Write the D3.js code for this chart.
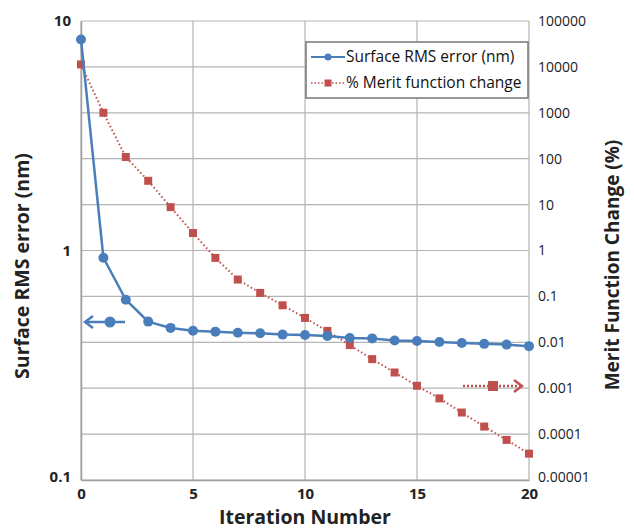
<!DOCTYPE html>
<html>
<head>
<meta charset="utf-8">
<script src="https://cdn.jsdelivr.net/npm/d3@7"></script>
<style>
  body { margin: 0; background: #fff; }
  svg text { font-family: "Open Sans", "Liberation Sans", sans-serif; }
</style>
</head>
<body>
<div id="canvas"></div>
<script>
// iteration numbers
const iterations = d3.range(0, 21);
// Surface RMS error (nm), left axis
const rmsError = [8.3, 0.93, 0.61, 0.49, 0.46, 0.447, 0.443, 0.438, 0.436, 0.43, 0.428,
  0.424, 0.416, 0.414, 0.405, 0.403, 0.399, 0.395, 0.392, 0.389, 0.383];
// % Merit function change, right axis
const meritChange = [11300, 1000, 109, 33, 8.8, 2.4, 0.69, 0.233, 0.119, 0.064, 0.034,
  0.0177, 0.0087, 0.0043, 0.0022, 0.00113, 0.0006, 0.000295, 0.000146, 0.0000747, 0.0000375];
const leftTicks = [0.1, 1, 10];
const rightTicks = [0.00001, 0.0001, 0.001, 0.01, 0.1, 1, 10, 100, 1000, 10000, 100000];
const rightLabels = ["0.00001", "0.0001", "0.001", "0.01", "0.1", "1", "10", "100", "1000", "10000", "100000"];
const xTicks = [0, 5, 10, 15, 20];
const seriesNames = ["Surface RMS error (nm)", "% Merit function change"];

const width = 634, height = 531;
const margin = { top: 21, left: 81, bottom: 51, right: 105 };
const iwidth = width - margin.left - margin.right;
const iheight = height - margin.top - margin.bottom;

const blue = "#4a7ebb", red = "#c0504d", grid = "#b4b4b4";

const svg = d3.select("#canvas").append("svg")
  .attr("width", width).attr("height", height);
const g = svg.append("g").attr("transform", `translate(${margin.left},${margin.top})`);

const x = d3.scaleLinear().domain([0, 20]).range([0, iwidth]);
const yL = d3.scaleLog().domain([0.1, 10]).range([iheight, 0]);
const yR = d3.scaleLog().domain([0.00001, 100000]).range([iheight, 0]);

// gridlines
g.append("g").selectAll("line").data(rightTicks).enter().append("line")
  .attr("x1", 0).attr("x2", iwidth)
  .attr("y1", d => yR(d)).attr("y2", d => yR(d))
  .attr("stroke", grid).attr("stroke-width", 1.2);
g.append("g").selectAll("line").data(xTicks).enter().append("line")
  .attr("x1", d => x(d)).attr("x2", d => x(d))
  .attr("y1", 0).attr("y2", iheight)
  .attr("stroke", grid).attr("stroke-width", 1.2);

// axes
const axL = g.append("g").call(d3.axisLeft(yL).tickValues(leftTicks).tickFormat(d3.format("")).tickSize(0).tickPadding(10));
const axR = g.append("g").attr("transform", `translate(${iwidth},0)`)
  .call(d3.axisRight(yR).tickValues(rightTicks).tickFormat((d, i) => rightLabels[i]).tickSize(0).tickPadding(9));
const axB = g.append("g").attr("transform", `translate(0,${iheight})`)
  .call(d3.axisBottom(x).tickValues(xTicks).tickSize(0).tickPadding(8));
[axL, axR, axB].forEach(a => {
  a.select(".domain").attr("stroke", "#a0a0a0").attr("stroke-width", 1.5);
  a.selectAll("text").attr("fill", "#222").style("font-size", "15px").style("font-weight", "bold");
});
axR.select(".domain").remove();
axR.selectAll("text").style("font-weight", "normal").style("font-size", "14px");
axL.selectAll("text").attr("dy", "0.32em");
// adjust bottom-left corner labels
axL.selectAll(".tick").filter(d => d === 0.1).select("text").attr("dy", "0.1em");
axR.selectAll(".tick").filter(d => d === 0.00001).select("text").attr("dy", "0.1em");

// red series
const lineR = d3.line().x((d, i) => x(iterations[i])).y(d => yR(d));
g.append("path").datum(meritChange).attr("d", lineR)
  .attr("fill", "none").attr("stroke", red).attr("stroke-width", 2).attr("stroke-dasharray", "1.5,2.5");
g.append("g").selectAll("rect").data(meritChange).enter().append("rect")
  .attr("x", (d, i) => x(iterations[i]) - 4).attr("y", d => yR(d) - 4)
  .attr("width", 8).attr("height", 8).attr("fill", red);

// blue series
const lineB = d3.line().x((d, i) => x(iterations[i])).y(d => yL(d));
g.append("path").datum(rmsError).attr("d", lineB)
  .attr("fill", "none").attr("stroke", blue).attr("stroke-width", 2.5);
g.append("g").selectAll("circle").data(rmsError).enter().append("circle")
  .attr("cx", (d, i) => x(iterations[i])).attr("cy", d => yL(d)).attr("r", 5)
  .attr("fill", blue);

// axis pointer annotations
const bY = 322 - margin.top;
g.append("line").attr("x1", 5).attr("x2", 44).attr("y1", bY).attr("y2", bY)
  .attr("stroke", blue).attr("stroke-width", 2.5);
g.append("path").attr("d", `M12,${bY - 6}L4,${bY}L12,${bY + 6}`)
  .attr("fill", "none").attr("stroke", blue).attr("stroke-width", 2.5);
g.append("circle").attr("cx", 29).attr("cy", bY).attr("r", 5.5).attr("fill", blue);

const rY = 386 - margin.top;
g.append("line").attr("x1", 382).attr("x2", 439).attr("y1", rY).attr("y2", rY)
  .attr("stroke", red).attr("stroke-width", 2.5).attr("stroke-dasharray", "2,2");
g.append("path").attr("d", `M433,${rY - 6}L441,${rY}L433,${rY + 6}`)
  .attr("fill", "none").attr("stroke", red).attr("stroke-width", 2.5);
g.append("rect").attr("x", 407).attr("y", rY - 5).attr("width", 10).attr("height", 10).attr("fill", red);

// legend
const leg = svg.append("g").attr("transform", "translate(306,42)");
leg.append("rect").attr("width", 222).attr("height", 56)
  .attr("fill", "#fff").attr("stroke", "#777").attr("stroke-width", 1.5);
const l1 = leg.append("g").attr("transform", "translate(0,15)");
l1.append("line").attr("x1", 5).attr("x2", 39).attr("stroke", blue).attr("stroke-width", 2);
l1.append("circle").attr("cx", 22).attr("r", 3.5).attr("fill", blue);
l1.append("text").attr("x", 40).attr("dy", "0.35em").text(seriesNames[0])
  .style("font-size", "15.5px").attr("fill", "#111");
const l2 = leg.append("g").attr("transform", "translate(0,41)");
l2.append("line").attr("x1", 5).attr("x2", 39).attr("stroke", red).attr("stroke-width", 1.5).attr("stroke-dasharray", "1.5,2");
l2.append("rect").attr("x", 18.5).attr("y", -3.5).attr("width", 7).attr("height", 7).attr("fill", red);
l2.append("text").attr("x", 40).attr("dy", "0.35em").text(seriesNames[1])
  .style("font-size", "15.5px").attr("fill", "#111");

// axis titles
svg.append("text").attr("transform", "translate(22,266) rotate(-90)")
  .attr("text-anchor", "middle").attr("dy", "0.35em")
  .style("font-size", "19.5px").style("font-weight", "bold").attr("fill", "#222")
  .text("Surface RMS error (nm)");
svg.append("text").attr("transform", "translate(612,265) rotate(-90)")
  .attr("text-anchor", "middle").attr("dy", "0.35em")
  .style("font-size", "19px").style("font-weight", "bold").attr("fill", "#222")
  .text("Merit Function Change (%)");
svg.append("text").attr("x", 305).attr("y", 517)
  .attr("text-anchor", "middle").attr("dy", "0.35em")
  .style("font-size", "19.5px").style("font-weight", "bold").attr("fill", "#222")
  .text("Iteration Number");
</script>
</body>
</html>
